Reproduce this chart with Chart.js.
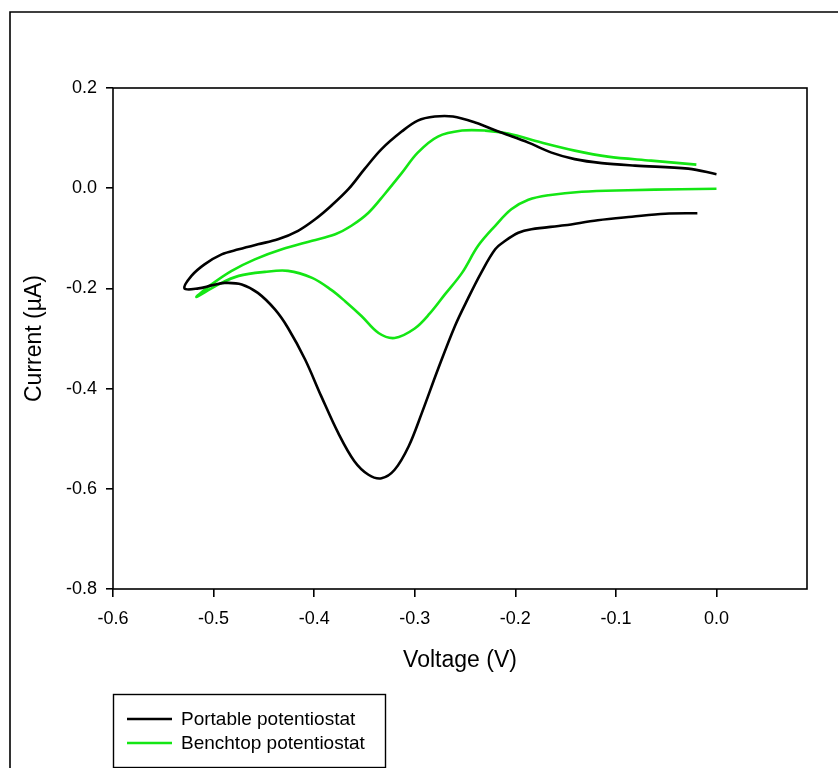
<!DOCTYPE html>
<html>
<head>
<meta charset="utf-8">
<script src="https://cdn.jsdelivr.net/npm/chart.js@4/dist/chart.umd.min.js"></script>
<style>
  html, body { margin: 0; padding: 0; background: #fff; }
  #wrap { width: 838px; height: 768px; position: relative; }
</style>
</head>
<body>
<div id="wrap"><canvas id="cv" width="838" height="768"></canvas></div>
<script>
// Cyclic voltammograms: portable vs benchtop potentiostat
const portableVoltage = [
  0.000, -0.028, -0.081, -0.114, -0.141, -0.164, -0.187, -0.214, -0.240, -0.262,
  -0.280, -0.297, -0.313, -0.333, -0.350, -0.366, -0.383, -0.399, -0.416, -0.436,
  -0.456, -0.475, -0.492, -0.509, -0.522, -0.529,
  -0.515, -0.502, -0.489, -0.472, -0.456, -0.439, -0.426, -0.409, -0.393, -0.376,
  -0.360, -0.346, -0.333, -0.320, -0.306, -0.293, -0.277, -0.260, -0.247, -0.234,
  -0.220, -0.210, -0.197, -0.184, -0.151, -0.118, -0.084, -0.051, -0.019
];
const portableCurrent = [
  0.028, 0.039, 0.045, 0.050, 0.058, 0.071, 0.091, 0.111, 0.131, 0.143,
  0.143, 0.135, 0.113, 0.078, 0.038, -0.002, -0.035, -0.062, -0.085, -0.102,
  -0.112, -0.122, -0.132, -0.152, -0.175, -0.200,
  -0.200, -0.194, -0.189, -0.192, -0.209, -0.242, -0.279, -0.342, -0.415, -0.489,
  -0.545, -0.572, -0.579, -0.562, -0.515, -0.449, -0.362, -0.275, -0.220, -0.169,
  -0.122, -0.105, -0.089, -0.082, -0.074, -0.064, -0.057, -0.051, -0.050
];
const benchtopVoltage = [
  -0.020, -0.065, -0.108, -0.141, -0.174, -0.207, -0.230, -0.253, -0.277, -0.297,
  -0.313, -0.330, -0.346, -0.363, -0.379, -0.402, -0.432, -0.459, -0.482, -0.502,
  -0.517,
  -0.495, -0.475, -0.449, -0.426, -0.402, -0.383, -0.369, -0.353, -0.336, -0.320,
  -0.300, -0.285, -0.270, -0.253, -0.237, -0.220, -0.204, -0.187, -0.167, -0.134,
  -0.088, -0.035, 0.000
];
const benchtopCurrent = [
  0.047, 0.055, 0.063, 0.075, 0.091, 0.109, 0.115, 0.115, 0.103, 0.071,
  0.030, -0.012, -0.049, -0.075, -0.092, -0.105, -0.122, -0.142, -0.165, -0.192,
  -0.217,
  -0.192, -0.175, -0.167, -0.165, -0.179, -0.203, -0.226, -0.255, -0.289, -0.299,
  -0.280, -0.250, -0.212, -0.169, -0.115, -0.075, -0.042, -0.023, -0.014, -0.007,
  -0.004, -0.002, -0.001
];
const seriesNames = ['Portable potentiostat', 'Benchtop potentiostat'];
const xTickValues = [-0.6, -0.5, -0.4, -0.3, -0.2, -0.1, 0.0];
const yTickValues = [-0.8, -0.6, -0.4, -0.2, 0.0, 0.2];

const toPoints = (xs, ys) => xs.map((x, i) => ({ x: x, y: ys[i] }));
const FONT = "'Liberation Sans', Arial, sans-serif";

// frame around the whole figure, full box around the plot area, and legend box
const decorations = {
  id: 'decorations',
  beforeDraw(chart) {
    const ctx = chart.ctx;
    ctx.save();
    ctx.fillStyle = '#fff';
    ctx.fillRect(0, 0, chart.width, chart.height);
    ctx.strokeStyle = '#000';
    ctx.lineWidth = 1.6;
    ctx.beginPath();
    ctx.moveTo(10, chart.height + 2);
    ctx.lineTo(10, 12);
    ctx.lineTo(chart.width + 2, 12);
    ctx.stroke();
    ctx.restore();
  },
  afterDraw(chart) {
    const ctx = chart.ctx;
    const a = chart.chartArea;
    ctx.save();
    ctx.strokeStyle = '#000';
    ctx.lineWidth = 1.6;
    ctx.strokeRect(a.left, a.top, a.right - a.left, a.bottom - a.top);

    // legend
    const bx = 113, by = 694, bw = 272, bh = 73;
    ctx.lineWidth = 1.4;
    ctx.strokeRect(bx + 0.5, by + 0.5, bw, bh);
    ctx.font = '19px ' + FONT;
    ctx.textBaseline = 'middle';
    ctx.textAlign = 'left';
    chart.data.datasets.forEach((ds, i) => {
      const y = 719 + i * 24;
      ctx.strokeStyle = ds.borderColor;
      ctx.lineWidth = 2.6;
      ctx.beginPath();
      ctx.moveTo(127, y);
      ctx.lineTo(172, y);
      ctx.stroke();
      ctx.fillStyle = '#000';
      ctx.fillText(ds.label, 181, y + 1);
    });
    ctx.restore();
  }
};

new Chart(document.getElementById('cv'), {
  type: 'scatter',
  data: {
    datasets: [
      {
        label: seriesNames[0],
        data: toPoints(portableVoltage, portableCurrent),
        showLine: true,
        borderColor: '#000000',
        borderWidth: 2.6,
        pointRadius: 0,
        tension: 0.35,
        fill: false
      },
      {
        label: seriesNames[1],
        data: toPoints(benchtopVoltage, benchtopCurrent),
        showLine: true,
        borderColor: '#14e614',
        borderWidth: 2.6,
        pointRadius: 0,
        tension: 0.35,
        fill: false
      }
    ]
  },
  options: {
    responsive: false,
    animation: false,
    devicePixelRatio: 1,
    layout: { padding: { left: 14, top: 88, right: 31, bottom: 79 } },
    plugins: {
      legend: { display: false },
      tooltip: { enabled: false }
    },
    scales: {
      x: {
        type: 'linear',
        min: -0.6,
        max: 0.09,
        afterBuildTicks: (axis) => { axis.ticks = xTickValues.map(v => ({ value: v })); },
        afterFit: (axis) => { axis.height = 100; },
        border: { display: false },
        grid: {
          drawOnChartArea: false,
          drawTicks: true,
          tickLength: 8,
          tickColor: '#000',
          lineWidth: 1.6
        },
        ticks: {
          padding: 11,
          color: '#000',
          font: { family: FONT, size: 18 },
          maxRotation: 0,
          callback: (v) => Number(v).toFixed(1)
        },
        title: {
          display: true,
          text: 'Voltage (V)',
          color: '#000',
          font: { family: FONT, size: 23 },
          padding: { top: 0, bottom: 15 }
        }
      },
      y: {
        type: 'linear',
        min: -0.8,
        max: 0.2,
        afterBuildTicks: (axis) => { axis.ticks = yTickValues.map(v => ({ value: v })); },
        afterFit: (axis) => { axis.width = 99; },
        border: { display: false },
        grid: {
          drawOnChartArea: false,
          drawTicks: true,
          tickLength: 7,
          tickColor: '#000',
          lineWidth: 1.6
        },
        ticks: {
          padding: 9,
          color: '#000',
          font: { family: FONT, size: 18 },
          callback: (v) => Number(v).toFixed(1)
        },
        title: {
          display: true,
          text: 'Current (\u00b5A)',
          color: '#000',
          font: { family: FONT, size: 23 },
          padding: { top: 7, bottom: 0 }
        }
      }
    }
  },
  plugins: [decorations]
});
</script>
</body>
</html>
